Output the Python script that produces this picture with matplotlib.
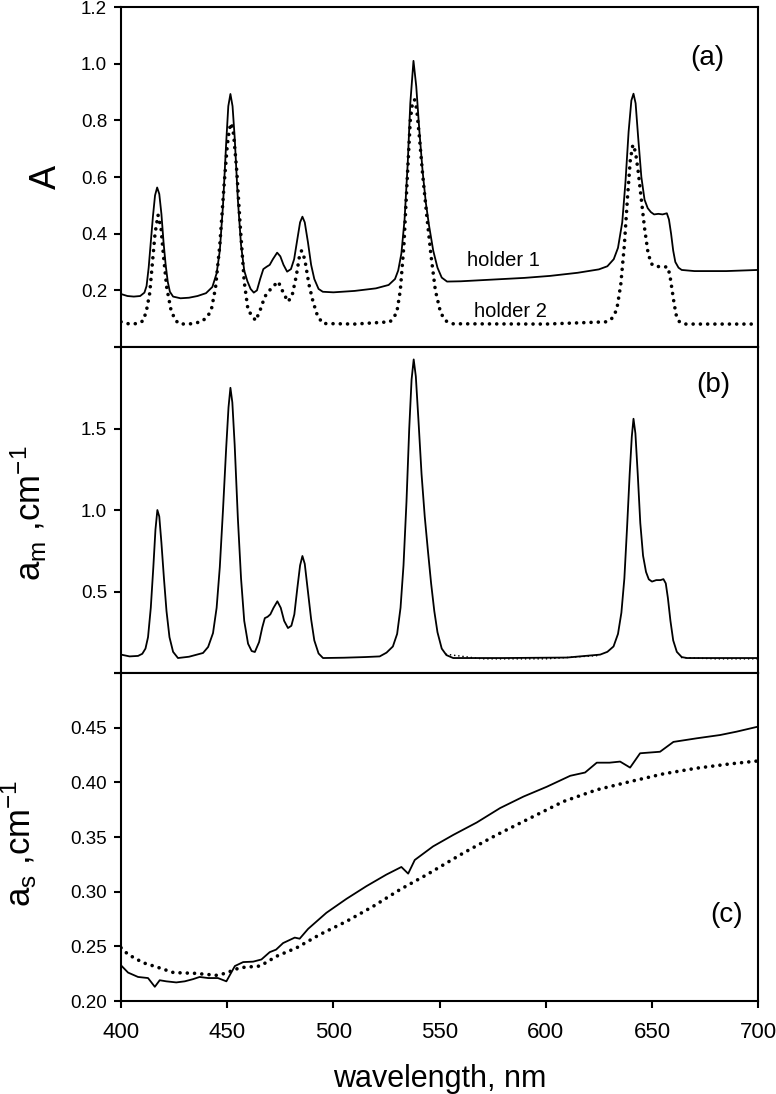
import numpy as np
import matplotlib
matplotlib.use('Agg')
import matplotlib.pyplot as plt

plt.rcParams['font.family'] = ['Liberation Sans', 'DejaVu Sans']
plt.rcParams['mathtext.fontset'] = 'custom'
plt.rcParams['mathtext.rm'] = 'Liberation Sans'
plt.rcParams['mathtext.it'] = 'Liberation Sans'

# (a) absorbance, holder 1 (solid)
wl_h1 = [400, 403, 406, 409, 411, 412, 413, 414, 415, 416, 417, 418, 419, 420, 421, 422, 423,
         424.5, 428, 432, 436, 440, 443, 445, 446.5, 448, 449.5, 450.5, 451.5, 452.5, 453.5,
         455, 456.5, 458, 459.5, 461, 462.5, 464, 465.5, 467, 468.5, 470, 471.5, 473.5, 475,
         476.5, 478.2, 480, 481.5, 483, 484.3, 485.4, 486.5, 488, 489.5, 491, 493, 495, 500,
         510, 520, 526, 529, 530.5, 532, 533.5, 535, 536.2, 537.7, 539, 540.5, 542, 543.5,
         545, 547, 549, 551, 553.5, 560, 575, 590, 602, 615, 625, 629, 632, 634, 636, 637.5,
         639, 640.3, 641.3, 642.3, 643.5, 645, 646.5, 648, 649.5, 651, 653, 655, 657, 658,
         659, 660, 661, 662.5, 664, 670, 685, 700]
A_h1 = [0.187, 0.180, 0.178, 0.180, 0.192, 0.215, 0.28, 0.37, 0.46, 0.535, 0.563, 0.54, 0.47,
        0.37, 0.29, 0.23, 0.195, 0.178, 0.172, 0.174, 0.180, 0.190, 0.212, 0.26, 0.34, 0.50,
        0.72, 0.85, 0.893, 0.85, 0.74, 0.52, 0.36, 0.27, 0.232, 0.205, 0.192, 0.20, 0.24,
        0.275, 0.283, 0.29, 0.31, 0.333, 0.32, 0.29, 0.266, 0.275, 0.31, 0.38, 0.44, 0.46,
        0.44, 0.37, 0.29, 0.24, 0.205, 0.195, 0.193, 0.198, 0.207, 0.219, 0.24, 0.27, 0.33,
        0.45, 0.65, 0.86, 1.01, 0.92, 0.76, 0.62, 0.51, 0.43, 0.34, 0.28, 0.245, 0.231, 0.232,
        0.238, 0.244, 0.251, 0.262, 0.274, 0.285, 0.31, 0.35, 0.44, 0.58, 0.76, 0.87, 0.894,
        0.86, 0.74, 0.60, 0.52, 0.49, 0.476, 0.468, 0.470, 0.468, 0.472, 0.45, 0.40, 0.34,
        0.30, 0.28, 0.272, 0.268, 0.268, 0.272]

# (a) absorbance, holder 2 (dotted)
wl_h2 = [400, 404, 408, 410.5, 412, 413.5, 414.8, 416, 417.4, 418.8, 420, 421.5, 423.5,
         425.5, 427.6, 433, 437.7, 440.5, 442.5, 444.5, 446.5, 448.5, 450, 451, 452, 453,
         454.5, 456, 458, 459.8, 463.4, 465.5, 467.7, 470.8, 474, 476.5, 478.6, 480.5, 482.5,
         484, 485, 486.5, 488.5, 490.4, 492.5, 495, 510, 526.7, 529.8, 531.5, 533.2, 534.8,
         536.2, 537.2, 538.2, 539.2, 540.5, 542, 544, 546, 548, 550.5, 553, 556, 600, 628.7,
         631, 633.4, 635.3, 637, 638.5, 639.8, 641, 642.2, 643.5, 645, 646.5, 648, 649.5,
         651.5, 654.5, 657.5, 658.5, 659.5, 660.5, 661.5, 663, 666, 700]
A_h2 = [0.089, 0.081, 0.083, 0.093, 0.13, 0.19, 0.30, 0.40, 0.466, 0.42, 0.32, 0.21, 0.131,
        0.095, 0.081, 0.082, 0.089, 0.105, 0.131, 0.21, 0.36, 0.57, 0.71, 0.77, 0.79, 0.75,
        0.62, 0.44, 0.23, 0.13, 0.093, 0.13, 0.178, 0.208, 0.231, 0.19, 0.16, 0.18, 0.25,
        0.32, 0.34, 0.31, 0.22, 0.16, 0.11, 0.083, 0.081, 0.089, 0.12, 0.20, 0.36, 0.60, 0.80,
        0.86, 0.873, 0.84, 0.74, 0.61, 0.46, 0.32, 0.20, 0.12, 0.092, 0.082, 0.081, 0.089,
        0.10, 0.131, 0.22, 0.36, 0.53, 0.66, 0.714, 0.69, 0.62, 0.52, 0.42, 0.34, 0.295,
        0.284, 0.284, 0.282, 0.25, 0.20, 0.15, 0.11, 0.088, 0.081, 0.081]

# (b) a_m
wl_am = [400, 404, 408, 410, 411.5, 412.7, 414, 415.2, 416.2, 417.1, 418, 419, 420.2, 421.4,
         422.8, 424.5, 426.8, 432, 438.6, 441, 443.3, 445, 446.5, 448, 449.5, 450.6, 451.5,
         452.4, 453.5, 455, 456.5, 458, 459.8, 461.5, 463, 465, 466.5, 467.7, 469, 470.3,
         471.8, 473.6, 475.2, 476.8, 478.6, 480.2, 481.6, 483, 484.3, 485.4, 486.5, 488,
         489.5, 491, 493, 495.1, 505, 515, 521.8, 525, 528, 530, 531.6, 533, 534.4, 535.7,
         536.8, 537.8, 538.8, 540, 541.5, 543, 544.5, 546, 547.5, 549, 551, 553.2, 556.4, 580,
         610, 625.6, 629, 631.9, 634, 635.6, 637, 638.3, 639.5, 640.5, 641.3, 642.2, 643.3,
         644.5, 645.8, 647.2, 648.5, 650, 652, 654, 655.4, 656.5, 657.5, 658.7, 660, 661.7,
         664, 666.4, 680, 700]
am = [0.113, 0.102, 0.105, 0.118, 0.15, 0.22, 0.40, 0.65, 0.88, 1.0,
      0.96, 0.80, 0.58, 0.38, 0.22, 0.13, 0.092, 0.10, 0.123, 0.16,
      0.245, 0.40, 0.65, 1.00, 1.38, 1.63, 1.75, 1.66, 1.40, 0.95,
      0.58, 0.32, 0.18, 0.135, 0.129, 0.19, 0.28, 0.337, 0.345, 0.36,
      0.40, 0.44, 0.40, 0.32, 0.276, 0.29, 0.36, 0.52, 0.66, 0.718,
      0.67, 0.50, 0.33, 0.20, 0.12, 0.092, 0.094, 0.098, 0.102, 0.125,
      0.163, 0.24, 0.40, 0.66, 1.05, 1.50, 1.80, 1.924, 1.82, 1.56,
      1.22, 0.96, 0.75, 0.55, 0.38, 0.25, 0.15, 0.11, 0.092, 0.092,
      0.095, 0.113, 0.13, 0.163, 0.24, 0.37, 0.58, 0.90, 1.22, 1.45,
      1.56, 1.47, 1.22, 0.92, 0.72, 0.62, 0.575, 0.561, 0.57, 0.57,
      0.576, 0.55, 0.46, 0.32, 0.20, 0.13, 0.098, 0.092, 0.092, 0.092]

# (b) dotted trace, visible only along the flat parts
wl_am2 = [553.2, 570, 600, 625.6, np.nan, 664, 680, 700]
am2 = [0.115, 0.087, 0.087, 0.108, np.nan, 0.095, 0.087, 0.087]

# (c) a_s
wl_as1 = [400, 403.3, 408, 412.7, 415.9, 418.2, 421.3, 426, 430, 433.9, 437, 441, 445.6,
          449.6, 453.6, 457.5, 462.2, 466.1, 470, 473, 476.3, 481.8, 484.1, 488.1, 496.7,
          506.1, 515.5, 524.9, 532, 535.2, 538.3, 546.9, 556.5, 567.5, 578.5, 589.5, 600.5,
          611.5, 618.5, 624, 630, 635, 639.7, 644.4, 653.8, 660.1, 671.1, 682.1, 689.9, 700]
as1 = [0.2326, 0.226, 0.222, 0.221, 0.213, 0.219, 0.218, 0.217, 0.218, 0.220, 0.222, 0.221,
       0.221, 0.218, 0.232, 0.2356, 0.236, 0.238, 0.2447, 0.247, 0.253, 0.258, 0.257, 0.266,
       0.2807, 0.2934, 0.305, 0.3156, 0.3226, 0.3165, 0.329, 0.3414, 0.352, 0.3633, 0.3765,
       0.387, 0.396, 0.406, 0.409, 0.418, 0.418, 0.419, 0.4135, 0.4266, 0.428, 0.437, 0.4403,
       0.4433, 0.4464, 0.451]
wl_as2 = [400, 403.3, 410.4, 417, 424.7, 434.9, 445, 449, 456, 465.5, 473.3, 482.7, 493.7,
          506.3, 518.8, 531.4, 544, 561.2, 576.9, 592.6, 608.3, 624, 639.7, 655.4, 671.1,
          686.8, 700]
as2 = [0.2487, 0.2426, 0.235, 0.231, 0.226, 0.2253, 0.2235, 0.2253, 0.2305, 0.232, 0.241,
       0.2487, 0.2609, 0.273, 0.2867, 0.302, 0.3156, 0.3354, 0.352, 0.3673, 0.3825, 0.3932,
       0.4007, 0.4078, 0.413, 0.4169, 0.4196]

dot = dict(color='black', lw=2.6, linestyle=(0, (0.01, 2.0)), dash_capstyle='round')
solid = dict(color='black', lw=1.3)

fig = plt.figure(figsize=(7.76, 10.94), dpi=100)
left, width = 0.156, 0.821
ax_a = fig.add_axes([left, 0.6828, width, 0.3108])
ax_b = fig.add_axes([left, 0.3848, width, 0.2980])
ax_c = fig.add_axes([left, 0.0850, width, 0.2998])

for ax in (ax_a, ax_b, ax_c):
    ax.set_xlim(400, 700)
    for sp in ax.spines.values():
        sp.set_linewidth(1.5)
    ax.tick_params(axis='y', direction='out', length=5, width=1.5, labelsize=13.5, pad=5)

# (a)
ax_a.plot(wl_h2, A_h2, **dot)
ax_a.plot(wl_h1, A_h1, **solid)
ax_a.set_ylim(0, 1.2)
ax_a.set_yticks(np.arange(0, 1.21, 0.2))
ax_a.set_yticklabels([''] + ['%.1f' % v for v in np.arange(0.2, 1.21, 0.2)])
ax_a.set_xticks([])
ax_a.set_ylabel('A', fontsize=26, va='center')
ax_a.yaxis.set_label_coords(-0.117, 0.5)
ax_a.text(563, 0.287, 'holder 1', fontsize=14.5)
ax_a.text(566, 0.107, 'holder 2', fontsize=14.5)
ax_a.text(676, 1.02, '(a)', fontsize=20, ha='center', va='center')

# (b)
ax_b.plot(wl_am2, am2, color='black', lw=1.2, linestyle=(0, (0.01, 2.5)), dash_capstyle='round')
ax_b.plot(wl_am, am, **solid)
ax_b.set_ylim(0, 2.0)
ax_b.set_yticks([0, 0.5, 1.0, 1.5, 2.0])
ax_b.set_yticklabels(['', '0.5', '1.0', '1.5', ''])
ax_b.set_xticks([])
ax_b.set_ylabel(r'a$_\mathregular{m}$ ,cm$^\mathregular{-1}$', fontsize=25, va='center')
ax_b.yaxis.set_label_coords(-0.145, 0.49)
ax_b.text(679, 1.77, '(b)', fontsize=20, ha='center', va='center')

# (c)
ax_c.plot(wl_as2, as2, **dot)
ax_c.plot(wl_as1, as1, **solid)
ax_c.set_ylim(0.2, 0.5)
ax_c.set_yticks(np.arange(0.2, 0.501, 0.05))
ax_c.set_yticklabels(['%.2f' % v for v in np.arange(0.2, 0.46, 0.05)] + [''])
ax_c.set_xticks(np.arange(400, 701, 50))
ax_c.tick_params(axis='x', direction='out', length=5, width=1.5, labelsize=16, pad=10)
ax_c.set_ylabel(r'a$_\mathregular{s}$ ,cm$^\mathregular{-1}$', fontsize=25, va='center')
ax_c.yaxis.set_label_coords(-0.16, 0.48)
ax_c.set_xlabel('wavelength, nm', fontsize=22, labelpad=15)
ax_c.text(685, 0.279, '(c)', fontsize=20, ha='center', va='center')

fig.savefig('out.png', dpi=100)
